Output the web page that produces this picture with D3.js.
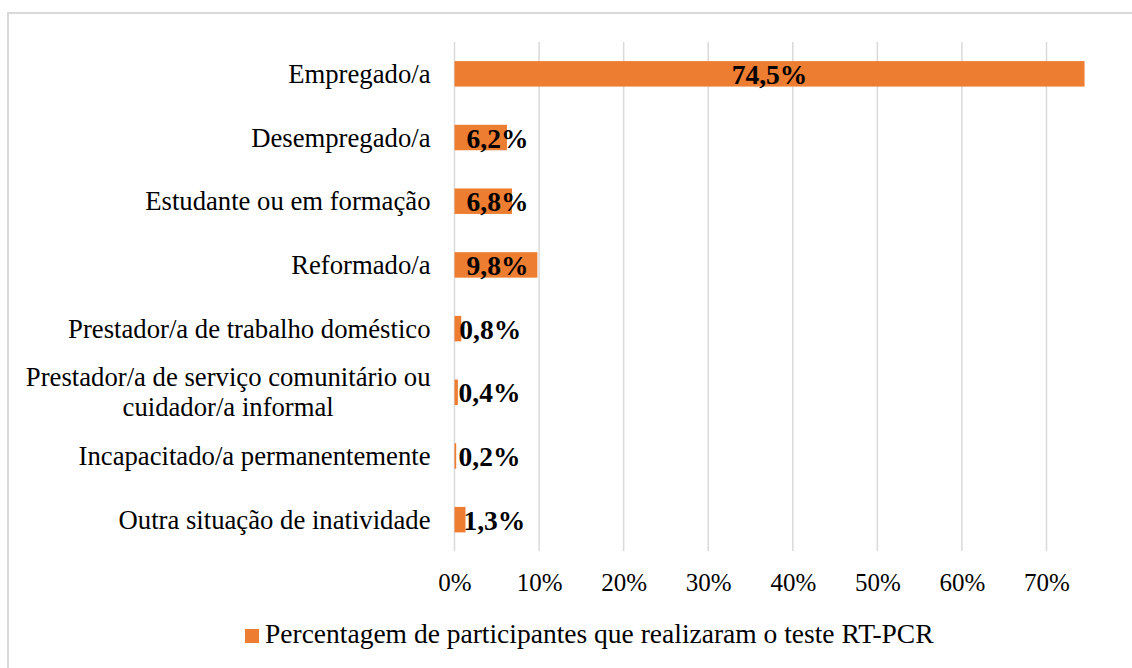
<!DOCTYPE html>
<html>
<head>
<meta charset="utf-8">
<script src="https://cdn.jsdelivr.net/npm/d3@7"></script>
<style>
  body { margin: 0; background: #fff; }
  svg { display: block; }
  text { font-family: "Liberation Serif", "Times New Roman", serif; fill: #000; }
</style>
</head>
<body>
<div id="chart"></div>
<script>
// categories (top to bottom), each one a list of label lines
var categories = [
    ["Empregado/a"],
    ["Desempregado/a"],
    ["Estudante ou em formação"],
    ["Reformado/a"],
    ["Prestador/a de trabalho doméstico"],
    ["Prestador/a de serviço comunitário ou", "cuidador/a informal"],
    ["Incapacitado/a permanentemente"],
    ["Outra situação de inatividade"]
];
var values = [74.5, 6.2, 6.8, 9.8, 0.8, 0.4, 0.2, 1.3];
var valueLabels = ["74,5%", "6,2%", "6,8%", "9,8%", "0,8%", "0,4%", "0,2%", "1,3%"];
var tickValues = [0, 10, 20, 30, 40, 50, 60, 70];
var seriesName = "Percentagem de participantes que realizaram o teste RT-PCR";

var width = 1132, height = 668;
var margin = { top: 42, left: 454.5, bottom: 117 };
var barColour = "#ED7D31";
var gridColour = "#d9d9d9";
var catFont = 26.7;

var svg = d3.select("#chart")
        .append("svg")
        .attr("width", width)
        .attr("height", height);

// outer frame (runs off the right and bottom edges, as in the source)
svg.append("rect")
        .attr("x", 8)
        .attr("y", 13)
        .attr("width", width + 20)
        .attr("height", height + 20)
        .attr("fill", "none")
        .attr("stroke", gridColour)
        .attr("stroke-width", 2);

var x = d3.scaleLinear()
        .domain([0, 70])
        .range([margin.left, 1046.5]);

var y = d3.scaleBand()
        .domain(d3.range(categories.length))
        .range([margin.top, height - margin.bottom + 0.5])
        .paddingInner(0.6)
        .paddingOuter(0.3);

var rows = categories.map(function(c, i){
    return { lines: c, value: values[i], label: valueLabels[i], index: i };
});

// gridlines
svg.append("g")
        .selectAll("line")
        .data(tickValues)
        .enter()
        .append("line")
        .attr("x1", function(d){ return x(d); })
        .attr("x2", function(d){ return x(d); })
        .attr("y1", margin.top)
        .attr("y2", height - margin.bottom)
        .attr("stroke", gridColour)
        .attr("stroke-width", 1.5);

// x axis tick labels
var xAxis = d3.axisBottom(x)
        .tickValues(tickValues)
        .tickSize(0)
        .tickPadding(0)
        .tickFormat(function(d){ return d + "%"; });

var axisG = svg.append("g")
        .attr("transform", "translate(0," + (height - margin.bottom) + ")")
        .call(xAxis);
axisG.select(".domain").remove();
axisG.selectAll("text")
        .attr("y", 40)
        .attr("dy", null)
        .attr("font-size", 25)
        .attr("font-family", "Liberation Serif, Times New Roman, serif")
        .attr("fill", "#000");

// bars
svg.append("g")
        .selectAll("rect")
        .data(rows)
        .enter()
        .append("rect")
        .attr("x", x(0))
        .attr("y", function(d){ return y(d.index); })
        .attr("width", function(d){ return x(d.value) - x(0); })
        .attr("height", y.bandwidth())
        .attr("fill", barColour);

// category labels
var catG = svg.append("g");
rows.forEach(function(d){
    var cy = y(d.index) + y.bandwidth() / 2;
    var n = d.lines.length;
    var first = catG.append("text")
            .attr("x", x(0) - 24)
            .attr("y", cy + 9 - (n - 1) * 15)
            .attr("text-anchor", "end")
            .attr("font-size", catFont)
            .text(d.lines[0]);
    if (n > 1) {
        var w = first.node().getComputedTextLength();
        for (var k = 1; k < n; k++) {
            catG.append("text")
                .attr("x", x(0) - 24 - w / 2)
                .attr("y", cy + 9 - (n - 1) * 15 + k * 30)
                .attr("text-anchor", "middle")
                .attr("font-size", catFont)
                .text(d.lines[k]);
        }
    }
});

// value labels
svg.append("g")
        .selectAll("text")
        .data(rows)
        .enter()
        .append("text")
        .attr("y", function(d){ return y(d.index) + y.bandwidth() / 2 + 10; })
        .attr("x", function(d){
            if (d.value > 20) return (x(0) + x(d.value)) / 2;
            if (d.value > 2) return x(0) + 12;
            return Math.max(x(d.value) - 2, x(0) + 4);
        })
        .attr("text-anchor", function(d){ return d.value > 20 ? "middle" : "start"; })
        .attr("font-size", 27.5)
        .attr("font-weight", "bold")
        .text(function(d){ return d.label; });

// legend
var legend = svg.append("g").attr("transform", "translate(245,629)");
legend.append("rect")
        .attr("width", 14)
        .attr("height", 14)
        .attr("fill", barColour);
legend.append("text")
        .attr("x", 20)
        .attr("y", 14)
        .attr("font-size", 27.5)
        .text(seriesName);
</script>
</body>
</html>
